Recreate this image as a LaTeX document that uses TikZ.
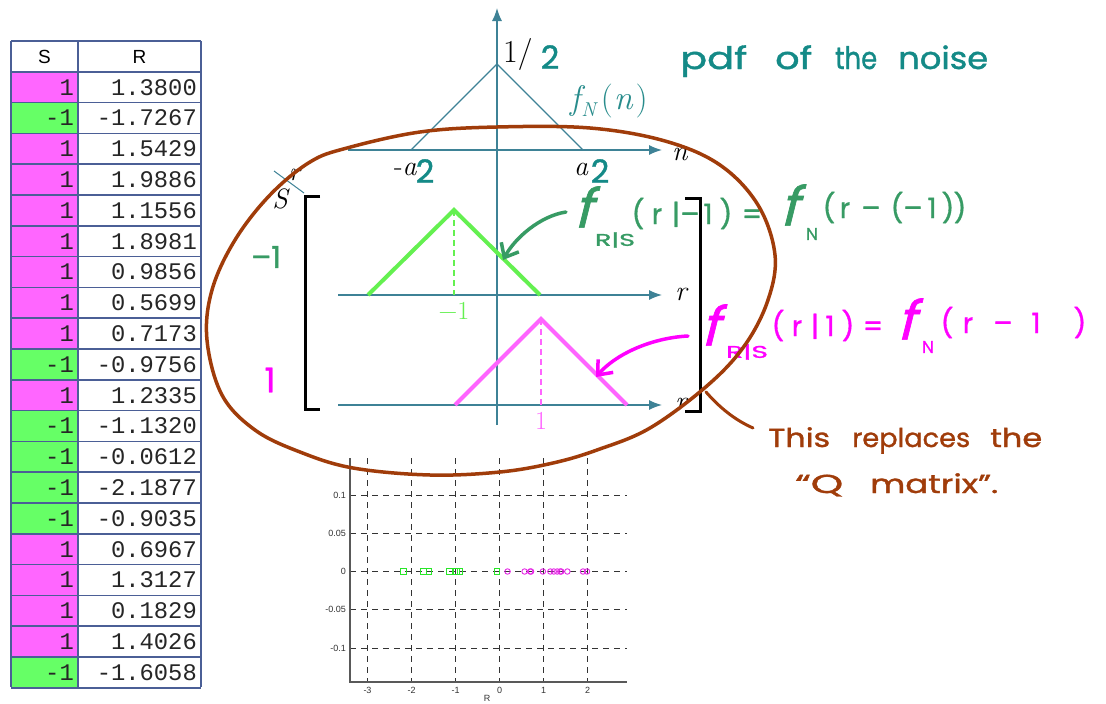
\documentclass[tikz,border=0pt]{standalone}
\usepackage{fontspec}
\usetikzlibrary{arrows.meta}
\newfontfamily\monof{Liberation Mono}
\newfontfamily\sansf{Liberation Sans}
\newfontfamily\handf[FakeBold=1.2]{Poppins}
\newfontfamily\handslant[FakeBold=1.2,FakeSlant=0.25]{Poppins}
\newcommand{\fitw}[2]{\resizebox{#1}{\height}{#2}}
\definecolor{tabborder}{RGB}{75,95,150}
\definecolor{tabm}{RGB}{255,102,255}
\definecolor{tabg}{RGB}{102,255,102}
\definecolor{axisteal}{RGB}{62,130,150}
\definecolor{fnteal}{RGB}{40,140,140}
\definecolor{handteal}{RGB}{20,138,135}
\definecolor{handgreen}{RGB}{55,155,100}
\definecolor{brightgreen}{RGB}{100,240,80}
\definecolor{brightmag}{RGB}{255,100,255}
\definecolor{handmag}{RGB}{255,0,255}
\definecolor{handbrown}{RGB}{160,60,10}
\definecolor{markgreen}{RGB}{40,230,40}
\definecolor{markmag}{RGB}{230,40,230}
\begin{document}
\begin{tikzpicture}[x=1pt,y=-1pt,
  tabline/.style={draw=tabborder,line width=1.6pt},
  tabtxt/.style={font=\monof\fontsize{23.8}{24}\selectfont,anchor=east,inner sep=0pt,text=black!85},
  hdr/.style={font=\sansf\fontsize{19}{20}\selectfont,inner sep=0pt},
  axisline/.style={draw=axisteal,line width=1.4pt},
  axisarrow/.style={axisline,-{Latex[length=13pt,width=10pt]}},
  sertxt/.style={font=\fontsize{#1}{#1}\selectfont,inner sep=0pt},
  handtxt/.style={font=\handf\fontsize{#1}{#1}\selectfont,inner sep=0pt},
  handf/.style={font=\handslant\fontsize{#1}{#1}\selectfont,inner sep=0pt},
  greentri/.style={draw=brightgreen,line width=4pt},
  magtri/.style={draw=brightmag,line width=4pt},
  guide/.style={line width=1.8pt,dash pattern=on 6pt off 4pt},
  griddash/.style={draw=black!80,line width=1pt,dash pattern=on 6pt off 5pt},
  plotaxis/.style={draw=black!65,line width=1.5pt},
  plotlab/.style={font=\sansf\fontsize{9}{9}\selectfont,text=black!80,inner sep=1pt},
  sqmark/.style={draw=markgreen,line width=0.9pt,minimum size=5.5pt,inner sep=0pt,rectangle},
  cmark/.style={draw=markmag,line width=0.9pt,minimum size=5.5pt,inner sep=0pt,circle},
  handarrow/.style={line width=3.5pt,line cap=round,-{Straight Barb[length=12pt,width=20pt]}},
  bracketline/.style={draw=black,line width=3pt},
  ellipseline/.style={draw=handbrown,line width=3.5pt}
]
\useasboundingbox (0,0) rectangle (1106,704);
\fill[white] (0,0) rectangle (1106,704);

% ---------------- table ----------------
\foreach \cv/\sv/\rv [count=\i] in {m/1/1.3800, g/-1/-1.7267, m/1/1.5429, m/1/1.9886, m/1/1.1556,
  m/1/1.8981, m/1/0.9856, m/1/0.5699, m/1/0.7173, g/-1/-0.9756, m/1/1.2335, g/-1/-1.1320,
  g/-1/-0.0612, g/-1/-2.1877, g/-1/-0.9035, m/1/0.6967, m/1/1.3127, m/1/0.1829, m/1/1.4026,
  g/-1/-1.6058}{
  \pgfmathsetmacro\yt{41+30.8*\i}
  \fill[tab\cv] (11,\yt) rectangle (78,\yt+30.8);
  \node[tabtxt] (s\i) at (74,\yt+15.4) {\sv};
  \node[tabtxt] (r\i) at (197,\yt+15.4) {\rv};
}
\foreach \k in {0,...,21}{
  \draw[tabline] (11,{41+30.8*\k}) -- (201,{41+30.8*\k});
}
\draw[tabline] (11,41) -- (11,687);
\draw[tabline] (78,41) -- (78,687);
\draw[tabline] (201,41) -- (201,687);
\node[hdr] (hS) at (44.5,56.6) {S};
\node[hdr] (hR) at (139.5,56.6) {R};

% ---------------- pdf of noise ----------------
\coordinate (vaxB) at (497,425);
\coordinate (vaxT) at (497,8);
\draw[axisarrow] (vaxB) -- (vaxT);
\coordinate (naxL) at (348,150);
\coordinate (naxR) at (662,150);
\draw[axisarrow] (naxL) -- (naxR);
\draw[axisline,line width=1.3pt] (411,150) -- (497,64) -- (583,150);
\node[sertxt=32,anchor=base west] (onea) at (503,62) {1/};
\node[sertxt=28,anchor=base west] (nlab) at (672,160) {\textit{n}};
\node[sertxt=28,anchor=base west] (mina) at (394,175) {-\textit{a}};
\node[sertxt=28,anchor=base west] (plusa) at (574,175) {\textit{a}};
\node[sertxt=34,anchor=base west,text=fnteal] (fN) at (570,109)
  {\itshape f\kern1pt\raisebox{-7pt}{\fontsize{20}{20}\selectfont N}\kern5pt\upshape(\kern1pt\itshape n\upshape\kern3pt)};
\node[handtxt=32,text=handteal] (two1) at (550,57) {2};
\node[handtxt=32,text=handteal] (two2) at (425,171) {2};
\node[handtxt=32,text=handteal] (two3) at (600,171) {2};

% corner r / S
\node[sertxt=26,anchor=base west] (rcorner) at (289,180) {\textit{r}};
\coordinate (dg1) at (274,171);
\coordinate (dg2) at (304,193);
\draw[axisteal,line width=1pt] (dg1) -- (dg2);
\node[sertxt=28] (Scorner) at (281,199) {\textit{S}};

% ---------------- conditional pdfs ----------------
\draw[axisarrow] (338,295) -- (662,295);
\draw[axisarrow] (338,405) -- (662,405);
\node[sertxt=28,anchor=base west] (rlab1) at (675,300) {\textit{r}};
\node[sertxt=28,anchor=base west] (rlab2) at (675,410) {\textit{r}};
\draw[greentri] (368,295) -- (454,210) -- (540,295);
\draw[brightgreen,guide] (454,210) -- (454,295);
\node[sertxt=26,text=brightgreen] (lm1) at (454,311) {\char"2212 1};
\draw[magtri] (455,405) -- (541,319) -- (627,405);
\draw[brightmag,guide] (541,319) -- (541,405);
\node[sertxt=26,text=brightmag] (lp1) at (541,421) {1};

% brackets
\draw[bracketline] (320,196) -- (305,196) -- (305,409) -- (320,409);
\draw[bracketline] (685,198) -- (700,198) -- (700,411) -- (685,411);

% ---------------- scatter plot ----------------
\foreach \xv [count=\i] in {-3,-2,-1,0,1,2}{
  \draw[griddash] ({499.5+44*\xv},458) -- ({499.5+44*\xv},682);
  \node[plotlab] (xt\i) at ({499.5+44*\xv},690) {\xv};
}
\foreach \yv/\lab [count=\i] in {495/0.1, 533.3/0.05, 571.5/0, 609.8/-0.05, 648/-0.1}{
  \draw[griddash] (350,\yv) -- (627,\yv);
  \node[plotlab,anchor=east] (yt\i) at (347,\yv) {\lab};
}
\draw[plotaxis] (350,458) -- (350,682) -- (627,682);
\node[plotlab] (Rlab) at (487,698) {R};
\foreach \v [count=\i] in {-1.7267,-0.9756,-1.1320,-0.0612,-2.1877,-0.9035,-1.6058}{
  \node[sqmark] (sq\i) at ({499.5+44*\v},571.5) {};
}
\foreach \v [count=\i] in {1.3800,1.5429,1.9886,1.1556,1.8981,0.9856,0.5699,0.7173,1.2335,0.6967,1.3127,0.1829,1.4026}{
  \node[cmark] (ci\i) at ({499.5+44*\v},571.5) {};
}

% ---------------- handwritten annotations ----------------
\node[handtxt=31,text=handteal,anchor=base west] (w1) at (680,69) {\fitw{67pt}{pdf}};
\node[handtxt=31,text=handteal,anchor=base west] (w2) at (775,69) {\fitw{37pt}{of}};
\node[handtxt=31,text=handteal,anchor=base west] (w3) at (835,69) {\fitw{42pt}{the}};
\node[handtxt=31,text=handteal,anchor=base west] (w4) at (898,69) {\fitw{90pt}{noise}};

\node[handtxt=30,text=handgreen] (hm1) at (266,257) {–1};
\node[handtxt=34,text=handmag] (hp1) at (270,380) {1};

% green equation
\node[handf=54,text=handgreen] (gf1) at (583,207) {f};
\node[handtxt=17,text=handgreen] (gs1) at (615,240) {\fitw{40pt}{R|S}};
\foreach \ch/\xx [count=\i] in {{(}/638,r/657,|/676,–/690,1/708,{)}/726,=/752}{
  \node[handtxt=28,text=handgreen,anchor=base] (ga\i) at (\xx,224) {\ch};
}
\node[handf=54,text=handgreen] (gf2) at (789,205) {f};
\node[handtxt=17,text=handgreen] (gs2) at (812,234) {N};
\foreach \ch/\xx [count=\i] in {{(}/829,r/845,–/871,{(}/897,–/913,1/932,{)}/948,{)}/960}{
  \node[handtxt=28,text=handgreen,anchor=base] (gb\i) at (\xx,218) {\ch};
}
\coordinate (gar1) at (566,212);
\coordinate (gar2) at (503,260);
\draw[handarrow,handgreen] (gar1) .. controls (540,216) and (515,238) .. (gar2);

% magenta equation
\node[handf=54,text=handmag] (mf1) at (710,325) {f};
\node[handtxt=17,text=handmag] (ms1) at (747,352) {\fitw{42pt}{R|S}};
\foreach \ch/\xx [count=\i] in {{(}/778,r/797,|/815,1/830,{)}/848,=/873}{
  \node[handtxt=28,text=handmag,anchor=base] (ma\i) at (\xx,336) {\ch};
}
\node[handf=54,text=handmag] (mf2) at (906,319) {f};
\node[handtxt=17,text=handmag] (ms2) at (928,347) {N};
\foreach \ch/\xx [count=\i] in {{(}/947,r/968,–/1003,1/1036,{)}/1080}{
  \node[handtxt=28,text=handmag,anchor=base] (mb\i) at (\xx,333) {\ch};
}
\coordinate (mar1) at (688,336);
\coordinate (mar2) at (596,377);
\draw[handarrow,handmag] (mar1) .. controls (650,338) and (615,355) .. (mar2);

% brown ellipse and note
\draw[ellipseline] plot[smooth cycle,tension=0.6] coordinates {
  (497,127) (590,128) (665,141) (720,165) (758,205) (775,255) (768,300) (745,345)
  (708,385) (650,428) (597,450) (553,463) (500,472) (430,475) (353,468) (300,452)
  (255,430) (222,395) (207,340) (212,290) (235,240) (270,195) (310,162) (347,148) (420,132)};
\coordinate (bc1) at (706,392);
\coordinate (bc2) at (753,428);
\draw[handbrown,line width=3pt,line cap=round] (bc1) .. controls (720,408) and (735,420) .. (bc2);
\node[handtxt=26,text=handbrown,anchor=base west] (t1) at (768,447) {\fitw{62pt}{This}};
\node[handtxt=26,text=handbrown,anchor=base west] (t2) at (852,447) {\fitw{118pt}{replaces}};
\node[handtxt=26,text=handbrown,anchor=base west] (t3) at (990,447) {\fitw{52pt}{the}};
\node[handtxt=26,text=handbrown,anchor=base west] (t4) at (795,493) {\fitw{48pt}{“Q}};
\node[handtxt=26,text=handbrown,anchor=base west] (t5) at (870,493) {\fitw{128pt}{matrix”.}};
\end{tikzpicture}
\end{document}
